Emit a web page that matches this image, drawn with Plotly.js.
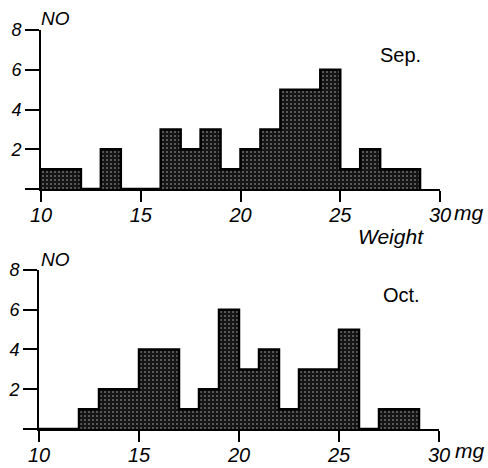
<!DOCTYPE html>
<html>
<head>
<meta charset="utf-8">
<script src="https://cdn.plot.ly/plotly-3.0.1.min.js"></script>
<style>
  html, body { margin: 0; padding: 0; background: #ffffff; }
  #chart { width: 488px; height: 468px; }
</style>
</head>
<body>
<div id="chart"></div>
<script>
// Bin starts (mg), each bin is 1 mg wide
const binStart = [10, 11, 12, 13, 14, 15, 16, 17, 18, 19, 20, 21, 22, 23, 24, 25, 26, 27, 28];
const sepCounts = [1, 1, 0, 2, 0, 0, 3, 2, 3, 1, 2, 3, 5, 5, 6, 1, 2, 1, 1];
const octCounts = [0, 0, 1, 2, 2, 4, 4, 1, 2, 6, 3, 4, 1, 3, 3, 5, 0, 1, 1];
const xTickVals = [10, 15, 20, 25, 30];
const xTickText = ['10', '15', '20', '25', '30'];
const yTickVals = [0, 2, 4, 6, 8];
const yTickText = ['', '2', '4', '6', '8'];
const panelLabels = ['Sep.', 'Oct.'];
const yLabel = 'NO';
const xLabel = 'Weight';
const unitLabel = 'mg';

const binWidth = 1;
const edgeX = binStart.concat([binStart[binStart.length - 1] + binWidth]);

function barTrace(counts, xa, ya) {
  return {
    type: 'bar', x: binStart, y: counts, xaxis: xa, yaxis: ya,
    width: binWidth, offset: 0,
    marker: {
      color: '#222',
      line: { width: 0 },
      pattern: { shape: '.', fgcolor: '#6e6e6e', bgcolor: '#151515', size: 4, solidity: 0.2 }
    },
    hoverinfo: 'skip', showlegend: false
  };
}
function stepTrace(counts, xa, ya) {
  return {
    type: 'scatter', mode: 'lines', x: edgeX, y: counts.concat([0]), xaxis: xa, yaxis: ya,
    line: { shape: 'hv', color: '#000', width: 2.5 },
    hoverinfo: 'skip', showlegend: false
  };
}

const fam = 'Liberation Sans, Arial, sans-serif';
const tickFontX = { family: fam, size: 20, color: '#000', style: 'italic' };
const tickFontY = { family: fam, size: 18, color: '#000', style: 'italic' };

function mainX(domain, anchor) {
  return {
    domain: domain, anchor: anchor, range: [10, 30], showgrid: false, zeroline: false,
    showline: true, linecolor: '#000', linewidth: 2,
    ticks: 'outside', ticklen: 11, tickwidth: 2, tickcolor: '#000',
    tickmode: 'array', tickvals: xTickVals, ticktext: xTickText, tickfont: tickFontX,
    ticklabelstandoff: -4,
    fixedrange: true
  };
}
function topX(over, anchor) {
  return {
    overlaying: over, anchor: anchor, side: 'top', range: [10, 30], showgrid: false, zeroline: false,
    showline: true, linecolor: '#000', linewidth: 1.5,
    ticks: 'inside', ticklen: 8, tickwidth: 1.5, tickcolor: '#000',
    tickmode: 'array', tickvals: [15, 20, 25], showticklabels: false, fixedrange: true
  };
}
function mainY(domain, anchor) {
  return {
    domain: domain, anchor: anchor, range: [0, 8], showgrid: false, zeroline: false,
    showline: true, linecolor: '#000', linewidth: 2,
    ticks: 'outside', ticklen: 14, tickwidth: 2, tickcolor: '#000',
    tickmode: 'array', tickvals: yTickVals, ticktext: yTickText, tickfont: tickFontY,
    fixedrange: true
  };
}
function rightY(over, anchor) {
  return {
    overlaying: over, anchor: anchor, side: 'right', range: [0, 8], showgrid: false, zeroline: false,
    showline: true, linecolor: '#000', linewidth: 1.5,
    ticks: 'outside', ticklen: 8, tickwidth: 1.5, tickcolor: '#000',
    tickmode: 'array', tickvals: [2, 4, 6], showticklabels: false, fixedrange: true
  };
}

const data = [
  barTrace(sepCounts, 'x', 'y'), stepTrace(sepCounts, 'x', 'y'),
  barTrace(octCounts, 'x2', 'y2'), stepTrace(octCounts, 'x2', 'y2')
];

const italicNO = { family: fam, color: '#000', style: 'italic', size: 19 };
const italicW = { family: fam, color: '#000', style: 'italic', size: 21 };
const italicMg = { family: fam, color: '#000', style: 'italic', size: 21 };
const upright = { family: fam, color: '#000', size: 20 };

const annotations = [
  { xref: 'paper', yref: 'paper', x: 0.0, y: 1.028, text: yLabel, showarrow: false, xanchor: 'left', yanchor: 'middle', font: italicNO },
  { xref: 'paper', yref: 'paper', x: 0.0, y: 0.426, text: yLabel, showarrow: false, xanchor: 'left', yanchor: 'middle', font: italicNO },
  { xref: 'x', yref: 'y', x: 29.15, y: 6.75, text: panelLabels[0], showarrow: false, xanchor: 'right', yanchor: 'middle', font: upright },
  { xref: 'x2', yref: 'y2', x: 29.15, y: 6.75, text: panelLabels[1], showarrow: false, xanchor: 'right', yanchor: 'middle', font: upright },
  { xref: 'paper', yref: 'paper', x: 1.03, y: 0.543, text: unitLabel, showarrow: false, xanchor: 'left', yanchor: 'middle', font: italicMg },
  { xref: 'paper', yref: 'paper', x: 1.033, y: -0.055, text: unitLabel, showarrow: false, xanchor: 'left', yanchor: 'middle', font: italicMg },
  { xref: 'paper', yref: 'paper', x: 0.878, y: 0.4837, text: xLabel, showarrow: false, xanchor: 'center', yanchor: 'middle', font: italicW }
];

const layout = {
  width: 488, height: 468,
  margin: { l: 39, r: 48, t: 30, b: 39, pad: 0 },
  paper_bgcolor: '#fff', plot_bgcolor: '#fff',
  barmode: 'overlay', bargap: 0,
  showlegend: false,
  xaxis: mainX([0.005, 1], 'y'),
  yaxis: mainY([0.6015, 1], 'x'),
  xaxis3: topX('x', 'y'),
  yaxis3: rightY('y', 'x'),
  xaxis2: mainX([0, 0.9975], 'y2'),
  yaxis2: mainY([0, 0.3985], 'x2'),
  xaxis4: topX('x2', 'y2'),
  yaxis4: rightY('y2', 'x2'),
  annotations: annotations
};

Plotly.newPlot('chart', data, layout, { staticPlot: true, displayModeBar: false });
</script>
</body>
</html>
